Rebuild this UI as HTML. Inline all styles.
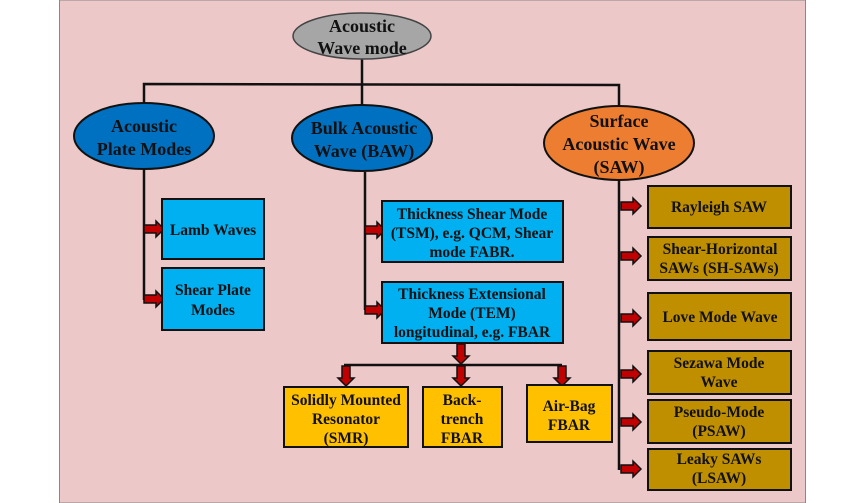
<!DOCTYPE html>
<html><head><meta charset="utf-8"><style>
html,body{margin:0;padding:0;background:#fff;}
svg{display:block;}
text{font-family:"Liberation Serif",serif;font-weight:bold;font-size:15.5px;fill:#111;text-anchor:middle;}
.big{font-size:18px;font-weight:bold;}
</style></head><body>
<svg width="865" height="503" viewBox="0 0 865 503" xmlns="http://www.w3.org/2000/svg">
<defs>
<g id="ar"><polygon points="0,-4 12,-4 12,-8 20,0 12,8 12,4 0,4" fill="#c00000" stroke="#111" stroke-width="1.5"/></g>
<g id="ad"><polygon points="-4,0 -4,12 -8,12 0,20 8,12 4,12 4,0" fill="#c00000" stroke="#111" stroke-width="1.5"/></g>
</defs>
<rect x="59.5" y="0" width="746" height="503" fill="#ecc8c8" stroke="#888" stroke-width="1"/>
<g stroke="#111" stroke-width="2.5" fill="none">
<line x1="362" y1="59" x2="362" y2="106"/>
<polyline points="144,104 144,84 619,85 619,107"/>
<polyline points="144,170 144,300"/>
<polyline points="365,172 365,310"/>
<polyline points="619,180 619,470"/>
<line x1="344" y1="365" x2="562" y2="365"/>
</g>
<use href="#ar" x="144" y="229"/>
<use href="#ar" x="144" y="299"/>
<use href="#ar" x="365" y="230"/>
<use href="#ar" x="365" y="310"/>
<use href="#ar" x="621" y="206"/>
<use href="#ar" x="621" y="256"/>
<use href="#ar" x="621" y="318"/>
<use href="#ar" x="621" y="374"/>
<use href="#ar" x="621" y="422"/>
<use href="#ar" x="621" y="469"/>
<use href="#ad" x="461" y="344"/>
<use href="#ad" x="346" y="366"/>
<use href="#ad" x="461" y="366"/>
<use href="#ad" x="562" y="366"/>
<ellipse cx="362" cy="36" rx="69" ry="23" fill="#a6a6a6" stroke="#444" stroke-width="1.5"/>
<g class="big">
<text class="big" x="362" y="32">Acoustic</text><text class="big" x="362" y="54">Wave mode</text>
</g>
<ellipse cx="144" cy="136" rx="70" ry="33" fill="#0070c0" stroke="#111" stroke-width="2"/>
<text class="big" x="144" y="132">Acoustic</text><text class="big" x="144" y="155">Plate Modes</text>
<ellipse cx="362" cy="138" rx="70" ry="33" fill="#0070c0" stroke="#111" stroke-width="2"/>
<text class="big" x="364" y="134">Bulk Acoustic</text><text class="big" x="364" y="157">Wave (BAW)</text>
<ellipse cx="619" cy="143" rx="75" ry="37" fill="#ed7d31" stroke="#111" stroke-width="2"/>
<text class="big" x="619" y="127">Surface</text><text class="big" x="619" y="150">Acoustic Wave</text><text class="big" x="619" y="173">(SAW)</text>
<g stroke="#111" stroke-width="2">
<rect x="162" y="199" width="102" height="60" fill="#00b0f0"/>
<rect x="162" y="268" width="102" height="62" fill="#00b0f0"/>
<rect x="382" y="201" width="181" height="61" fill="#00b0f0"/>
<rect x="382" y="282" width="181" height="61" fill="#00b0f0"/>
<rect x="284" y="387" width="124" height="60" fill="#ffc000"/>
<rect x="423" y="387" width="79" height="60" fill="#ffc000"/>
<rect x="527" y="385" width="85" height="57" fill="#ffc000"/>
<rect x="648" y="186" width="143" height="42" fill="#bf8f00"/>
<rect x="648" y="237" width="143" height="43" fill="#bf8f00"/>
<rect x="648" y="293" width="143" height="47" fill="#bf8f00"/>
<rect x="648" y="351" width="143" height="43" fill="#bf8f00"/>
<rect x="648" y="400" width="143" height="43" fill="#bf8f00"/>
<rect x="648" y="449" width="143" height="41" fill="#bf8f00"/>
</g>
<g style="font-size:14.5px">
<text x="213" y="235">Lamb Waves</text>
<text x="213" y="295">Shear Plate</text><text x="213" y="315">Modes</text>
<text x="472" y="219">Thickness Shear Mode</text><text x="472" y="238">(TSM), e.g. QCM, Shear</text><text x="472" y="257">mode FABR.</text>
<text x="472" y="299">Thickness Extensional</text><text x="472" y="318">Mode (TEM)</text><text x="472" y="337">longitudinal, e.g. FBAR</text>
<text x="346" y="405">Solidly Mounted</text><text x="346" y="424">Resonator</text><text x="346" y="443">(SMR)</text>
<text x="462" y="405">Back-</text><text x="462" y="424">trench</text><text x="462" y="443">FBAR</text>
<text x="569" y="411">Air-Bag</text><text x="569" y="430">FBAR</text>
<text x="719" y="212">Rayleigh SAW</text>
<text x="720" y="254">Shear-Horizontal</text><text x="719" y="273">SAWs (SH-SAWs)</text>
<text x="720" y="322">Love Mode Wave</text>
<text x="719" y="368">Sezawa Mode</text><text x="719" y="387">Wave</text>
<text x="719" y="417">Pseudo-Mode</text><text x="719" y="436">(PSAW)</text>
<text x="719" y="464">Leaky SAWs</text><text x="719" y="483">(LSAW)</text>
</g>
</svg>
</body></html>
